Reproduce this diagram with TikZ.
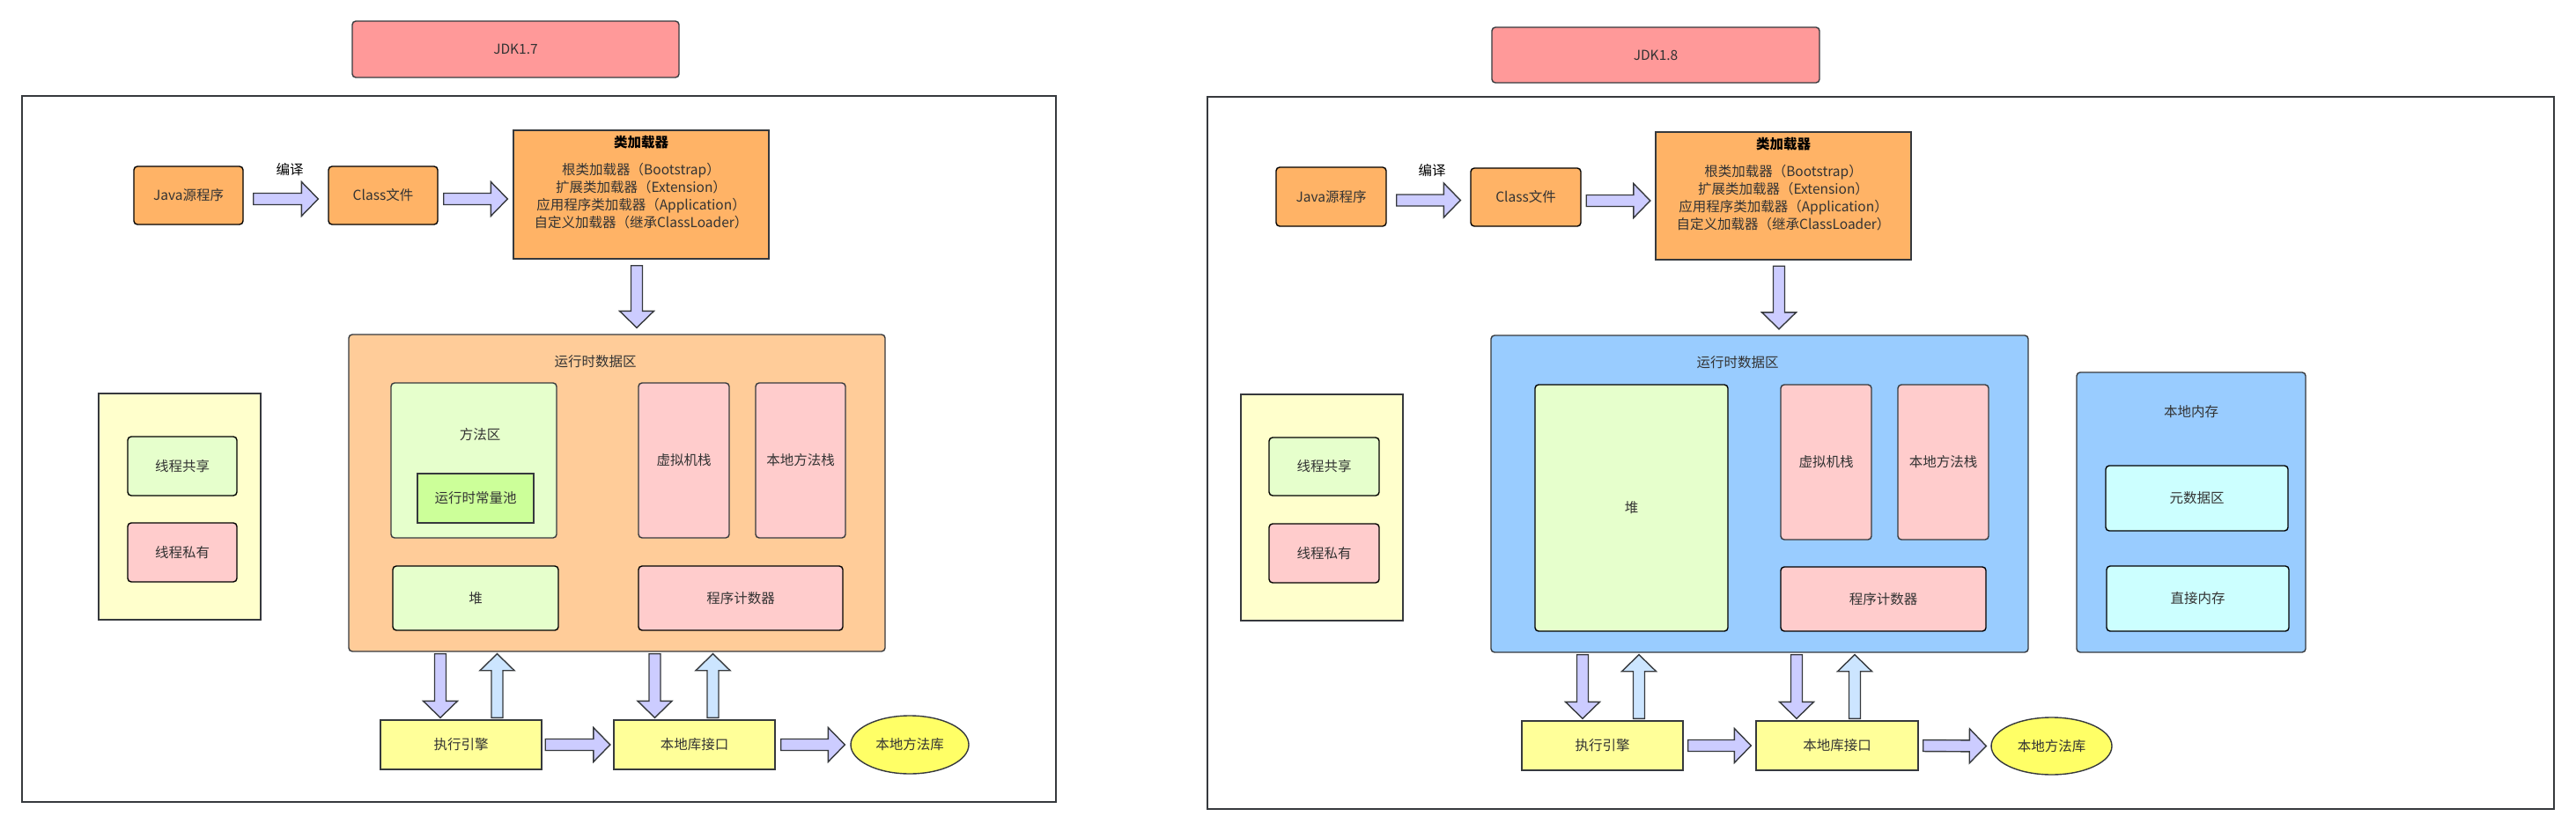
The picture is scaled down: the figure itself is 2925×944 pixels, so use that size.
\documentclass[tikz,border=0pt]{standalone}
\usepackage{fontspec}
\setmainfont{Noto Sans CJK SC}
\usetikzlibrary{calc,shapes.geometric}
\definecolor{jdkred}{HTML}{FF9999}
\definecolor{srcorange}{HTML}{FFB366}
\definecolor{rdaorange}{HTML}{FFCC99}
\definecolor{rdablue}{HTML}{99CCFF}
\definecolor{sharegreen}{HTML}{E6FFCC}
\definecolor{poolgreen}{HTML}{CCFF99}
\definecolor{privpink}{HTML}{FFCCCC}
\definecolor{legendyellow}{HTML}{FFFFCC}
\definecolor{execyellow}{HTML}{FFFF99}
\definecolor{libyellow}{HTML}{FFFF66}
\definecolor{metacyan}{HTML}{CCFFFF}
\definecolor{arrowlav}{HTML}{CCCCFF}
\definecolor{arrowsky}{HTML}{CCE5FF}
\definecolor{edgegray}{HTML}{36393D}
\definecolor{txtgray}{HTML}{333333}
\tikzset{
	area/.style={draw=edgegray, line width=1.4pt, inner sep=0pt, align=center},
	rarea/.style={area, rounded corners=4pt},
	darea/.style={rarea, draw=black},
	fatlav/.style={fill=arrowlav, draw=edgegray, line width=1.4pt},
	fatsky/.style={fill=arrowsky, draw=edgegray, line width=1.4pt},
}
\def\fatarrow[#1](#2)(#3)#4{\path ($(#2)!#4!(#3)$) coordinate (fa-s) ($(#3)!#4!(#2)$) coordinate (fa-e);
	\path ($(fa-e)!19pt!(fa-s)$) coordinate (fa-h);
	\draw[#1] ($(fa-s)!6.5pt!90:(fa-e)$) -- ($(fa-h)!6.5pt!90:(fa-e)$) -- ($(fa-h)!19.5pt!90:(fa-e)$) -- (fa-e)
		-- ($(fa-h)!19.5pt!-90:(fa-e)$) -- ($(fa-h)!6.5pt!-90:(fa-e)$) -- ($(fa-s)!6.5pt!-90:(fa-e)$) -- cycle;}

\begin{document}
\begin{tikzpicture}[x=1pt, y=-1pt, font=\fontsize{15.5pt}{20pt}\selectfont, text=txtgray]
		%%%%% START %%%%%
		\useasboundingbox[fill=white] (0,0) rectangle (2925,944);
		
		%% JDK 1.7
		\draw[line width=2pt, draw=edgegray] (24.5,109) rectangle (1199,911);
		\node[rarea, fill=jdkred, minimum width=371pt, minimum height=64pt] (jdka) at (585.5,56) {JDK1.7};
		
		\node[darea, fill=srcorange, minimum width=124pt, minimum height=66pt] (javaa) at (214,222) {Java源程序};
		\node[text=black] (compilea) at (329,193) {编译};
		\node[darea, fill=srcorange, minimum width=124pt, minimum height=66pt] (classa) at (435,222) {Class文件};
		\node[area, fill=srcorange, minimum width=290pt, minimum height=146pt] (loadera) at (728,221) {};
		\node[align=center] (loadertxta) at ([yshift=13.5pt]loadera.center) {\textbf{\color{black}类加载器}\\[11pt]根类加载器（Bootstrap）\\扩展类加载器（Extension）\\应用程序类加载器（Application）\\自定义加载器（继承ClassLoader）};
		
		\node[rarea, fill=rdaorange, minimum width=609pt, minimum height=360pt] (rdaa) at (700.5,560) {};
		\node (rdatitlea) at (676,411) {运行时数据区};
		\node[rarea, fill=sharegreen, minimum width=188pt, minimum height=176pt] (methoda) at (538,523) {};
		\node (methodtxta) at (545,494) {方法区};
		\node[area, fill=poolgreen, minimum width=132pt, minimum height=56pt] (poola) at (540,566) {运行时常量池};
		\node[rarea, fill=privpink, minimum width=103pt, minimum height=176pt] (jvmsa) at (776.5,523) {虚拟机栈};
		\node[rarea, fill=privpink, minimum width=102pt, minimum height=176pt] (nmsa) at (909,523) {本地方法栈};
		\node[darea, fill=sharegreen, minimum width=188pt, minimum height=73pt] (heapa) at (540,679.5) {堆};
		\node[darea, fill=privpink, minimum width=232pt, minimum height=73pt] (pca) at (841,679.5) {程序计数器};
		
		\node[area, fill=legendyellow, minimum width=184pt, minimum height=257pt] (legenda) at (204,575.5) {};
		\node[darea, fill=sharegreen, minimum width=124pt, minimum height=67pt] (shareda) at (207,529.5) {线程共享};
		\node[darea, fill=privpink, minimum width=124pt, minimum height=67pt] (privatea) at (207,627.5) {线程私有};
		
		\node[area, fill=execyellow, minimum width=183pt, minimum height=56pt] (enginea) at (523.5,846) {执行引擎};
		\node[area, fill=execyellow, minimum width=183pt, minimum height=56pt] (nativea) at (788.5,846) {本地库接口};
		\node[ellipse, draw=edgegray, line width=1.4pt, inner sep=0pt, fill=libyellow, minimum width=134pt, minimum height=66pt] (liba) at (1033,846) {本地方法库};
		
		\coordinate (ja) at ([yshift=-4pt]javaa.east);
		\coordinate (ca) at ([yshift=-4pt]classa.east);
		\coordinate (la) at ([xshift=-5pt]loadera.south);
		\fatarrow[fatlav](ja)(ja -| classa.west){11pt}
		\fatarrow[fatlav](ca)(ca -| loadera.west){6pt}
		\fatarrow[fatlav](la)(la |- rdaa.north){7pt}
		
		\coordinate (da1) at ([xshift=-23.5pt]enginea.north);
		\coordinate (ua1) at ([xshift=41pt]enginea.north);
		\coordinate (da2) at ([xshift=-45pt]nativea.north);
		\coordinate (ua2) at ([xshift=21pt]nativea.north);
		\fatarrow[fatlav](rdaa.south -| da1)(da1){2pt}
		\fatarrow[fatsky](ua1)(rdaa.south -| ua1){2pt}
		\fatarrow[fatlav](rdaa.south -| da2)(da2){2pt}
		\fatarrow[fatsky](ua2)(rdaa.south -| ua2){2pt}
		\fatarrow[fatlav](enginea.east)(nativea.west){3.5pt}
		\fatarrow[fatlav](nativea.east)(liba.west){6pt}
		
		%% JDK 1.8
		\draw[line width=2pt, draw=edgegray] (1371,110) rectangle (2900,919);
		\node[rarea, fill=jdkred, minimum width=372pt, minimum height=63pt] (jdkb) at (1880,62.5) {JDK1.8};
		
		\node[darea, fill=srcorange, minimum width=125pt, minimum height=67pt] (javab) at (1511.5,223.5) {Java源程序};
		\node[text=black] (compileb) at (1626,194) {编译};
		\node[darea, fill=srcorange, minimum width=125pt, minimum height=66pt] (classb) at (1732.5,224) {Class文件};
		\node[area, fill=srcorange, minimum width=290pt, minimum height=145pt] (loaderb) at (2025,222.5) {};
		\node[align=center] (loadertxtb) at ([yshift=13.5pt]loaderb.center) {\textbf{\color{black}类加载器}\\[11pt]根类加载器（Bootstrap）\\扩展类加载器（Extension）\\应用程序类加载器（Application）\\自定义加载器（继承ClassLoader）};
		
		\node[rarea, fill=rdablue, minimum width=610pt, minimum height=360pt] (rdab) at (1998,561) {};
		\node (rdatitleb) at (1973,412) {运行时数据区};
		\node[darea, fill=sharegreen, minimum width=219pt, minimum height=280pt] (heapb) at (1852.5,577) {堆};
		\node[rarea, fill=privpink, minimum width=103pt, minimum height=176pt] (jvmsb) at (2073.5,525) {虚拟机栈};
		\node[rarea, fill=privpink, minimum width=103pt, minimum height=176pt] (nmsb) at (2206.5,525) {本地方法栈};
		\node[darea, fill=privpink, minimum width=233pt, minimum height=73pt] (pcb) at (2138.5,680.5) {程序计数器};
		
		\node[rarea, fill=rdablue, minimum width=260pt, minimum height=318pt] (nmemb) at (2488,582) {};
		\node (nmemtxtb) at (2488,468) {本地内存};
		\node[darea, fill=metacyan, minimum width=207pt, minimum height=74pt] (metab) at (2494.5,566) {元数据区};
		\node[darea, fill=metacyan, minimum width=207pt, minimum height=74pt] (directb) at (2495.5,680) {直接内存};
		
		\node[area, fill=legendyellow, minimum width=184pt, minimum height=257pt] (legendb) at (1501,576.5) {};
		\node[darea, fill=sharegreen, minimum width=125pt, minimum height=66pt] (sharedb) at (1503.5,530) {线程共享};
		\node[darea, fill=privpink, minimum width=125pt, minimum height=67pt] (privateb) at (1503.5,628.5) {线程私有};
		
		\node[area, fill=execyellow, minimum width=183pt, minimum height=56pt] (engineb) at (1819.5,847) {执行引擎};
		\node[area, fill=execyellow, minimum width=184pt, minimum height=56pt] (nativeb) at (2086,847) {本地库接口};
		\node[ellipse, draw=edgegray, line width=1.4pt, inner sep=0pt, fill=libyellow, minimum width=137pt, minimum height=65pt] (libb) at (2329.5,847.5) {本地方法库};
		
		\coordinate (jb) at ([yshift=-4pt]javab.east);
		\coordinate (cb) at ([yshift=-4pt]classb.east);
		\coordinate (lb) at ([xshift=-5pt]loaderb.south);
		\fatarrow[fatlav](jb)(jb -| classb.west){11pt}
		\fatarrow[fatlav](cb)(cb -| loaderb.west){5.5pt}
		\fatarrow[fatlav](lb)(lb |- rdab.north){6.5pt}
		
		\coordinate (db1) at ([xshift=-22.5pt]engineb.north);
		\coordinate (ub1) at ([xshift=41.5pt]engineb.north);
		\coordinate (db2) at ([xshift=-46pt]nativeb.north);
		\coordinate (ub2) at ([xshift=20pt]nativeb.north);
		\fatarrow[fatlav](rdab.south -| db1)(db1){2pt}
		\fatarrow[fatsky](ub1)(rdab.south -| ub1){2pt}
		\fatarrow[fatlav](rdab.south -| db2)(db2){2pt}
		\fatarrow[fatsky](ub2)(rdab.south -| ub2){2pt}
		\fatarrow[fatlav](engineb.east)(nativeb.west){5pt}
		\fatarrow[fatlav](nativeb.east)(libb.west){5pt}
		
		%%%%% END %%%%%
\end{tikzpicture}
\end{document}
